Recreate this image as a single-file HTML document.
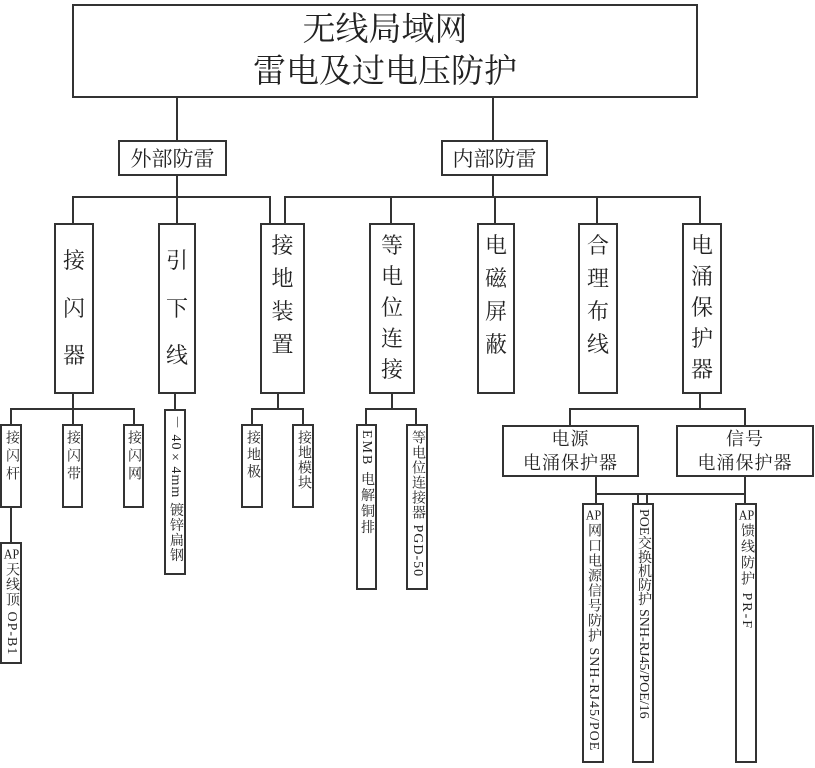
<!DOCTYPE html>
<html><head><meta charset="utf-8"><style>
body{margin:0;width:815px;height:768px;background:#fff;position:relative;overflow:hidden;font-family:"Liberation Serif","Noto Serif CJK SC","Noto Sans CJK SC",serif;color:#222}
.b{position:absolute;border:2px solid #333;box-sizing:border-box;background:#fff}
.h{position:absolute;height:2px;background:#333}
.v{position:absolute;width:2px;background:#333}
.col{display:flex;flex-direction:column;justify-content:flex-start;align-items:center;font-size:22px;line-height:22px}
.t{display:flex;flex-direction:column;justify-content:center;align-items:center;text-align:center}
.vt{writing-mode:vertical-rl;text-orientation:mixed;font-size:14px;letter-spacing:2px;padding-top:4px;line-height:18px;white-space:nowrap;overflow:hidden;text-align:start}
.cu{text-combine-upright:all}
</style></head><body>
<div class="v" style="left:176px;top:97px;height:44px"></div>
<div class="v" style="left:492px;top:97px;height:44px"></div>
<div class="v" style="left:176px;top:175px;height:23px"></div>
<div class="v" style="left:492px;top:175px;height:23px"></div>
<div class="h" style="left:72px;top:196px;width:199px"></div>
<div class="h" style="left:284px;top:196px;width:417px"></div>
<div class="v" style="left:72px;top:196px;height:28px"></div>
<div class="v" style="left:176px;top:196px;height:28px"></div>
<div class="v" style="left:269px;top:196px;height:28px"></div>
<div class="v" style="left:284px;top:196px;height:28px"></div>
<div class="v" style="left:390px;top:196px;height:28px"></div>
<div class="v" style="left:494px;top:196px;height:28px"></div>
<div class="v" style="left:596px;top:196px;height:28px"></div>
<div class="v" style="left:699px;top:196px;height:28px"></div>
<div class="v" style="left:72px;top:393px;height:16px"></div>
<div class="h" style="left:10px;top:408px;width:125px"></div>
<div class="v" style="left:10px;top:408px;height:17px"></div>
<div class="v" style="left:72px;top:408px;height:17px"></div>
<div class="v" style="left:133px;top:408px;height:17px"></div>
<div class="v" style="left:10px;top:507px;height:36px"></div>
<div class="v" style="left:174px;top:393px;height:17px"></div>
<div class="v" style="left:277px;top:393px;height:16px"></div>
<div class="h" style="left:251px;top:408px;width:53px"></div>
<div class="v" style="left:251px;top:408px;height:17px"></div>
<div class="v" style="left:302px;top:408px;height:17px"></div>
<div class="v" style="left:391px;top:393px;height:16px"></div>
<div class="h" style="left:365px;top:408px;width:52px"></div>
<div class="v" style="left:365px;top:408px;height:17px"></div>
<div class="v" style="left:415px;top:408px;height:17px"></div>
<div class="v" style="left:699px;top:393px;height:16px"></div>
<div class="h" style="left:569px;top:408px;width:177px"></div>
<div class="v" style="left:569px;top:408px;height:18px"></div>
<div class="v" style="left:744px;top:408px;height:18px"></div>
<div class="v" style="left:595px;top:475px;height:28px"></div>
<div class="v" style="left:744px;top:475px;height:28px"></div>
<div class="h" style="left:595px;top:493px;width:151px"></div>
<div class="v" style="left:637px;top:493px;height:10px"></div>
<div class="v" style="left:646px;top:493px;height:10px"></div>
<div class="b t" style="left:72px;top:4px;width:626px;height:94px;font-size:33px;line-height:42px">无线局域网<br>雷电及过电压防护</div>
<div class="b t" style="left:118px;top:140px;width:109px;height:36px;font-size:21px">外部防雷</div>
<div class="b t" style="left:441px;top:140px;width:107px;height:36px;font-size:21px">内部防雷</div>
<div class="b col" style="left:54px;top:223px;width:40px;height:171px;justify-content:space-evenly"><span>接</span><span>闪</span><span>器</span></div>
<div class="b col" style="left:158px;top:223px;width:38px;height:171px;justify-content:space-evenly"><span>引</span><span>下</span><span>线</span></div>
<div class="b col" style="left:260px;top:223px;width:45px;height:171px;padding-top:10px;gap:11px"><span>接</span><span>地</span><span>装</span><span>置</span></div>
<div class="b col" style="left:369px;top:223px;width:46px;height:171px;padding-top:10px;gap:9px"><span>等</span><span>电</span><span>位</span><span>连</span><span>接</span></div>
<div class="b col" style="left:477px;top:223px;width:38px;height:171px;padding-top:10px;gap:11px"><span>电</span><span>磁</span><span>屏</span><span>蔽</span></div>
<div class="b col" style="left:578px;top:223px;width:40px;height:171px;padding-top:10px;gap:11px"><span>合</span><span>理</span><span>布</span><span>线</span></div>
<div class="b col" style="left:682px;top:223px;width:40px;height:171px;padding-top:10px;gap:9px"><span>电</span><span>涌</span><span>保</span><span>护</span><span>器</span></div>
<div class="b vt" style="left:0px;top:424px;width:22px;height:84px;letter-spacing:4px">接闪杆</div>
<div class="b vt" style="left:62px;top:424px;width:21px;height:84px;letter-spacing:4px">接闪带</div>
<div class="b vt" style="left:123px;top:424px;width:21px;height:84px;letter-spacing:4px">接闪网</div>
<div class="b vt" style="left:0px;top:542px;width:22px;height:122px;letter-spacing:1px"><span class="cu">AP</span>天线顶 OP-B1</div>
<div class="b vt" style="left:164px;top:409px;width:22px;height:166px;letter-spacing:1px">－ 40×4mm 镀锌扁钢</div>
<div class="b vt" style="left:241px;top:424px;width:22px;height:84px;letter-spacing:3px">接地极</div>
<div class="b vt" style="left:292px;top:424px;width:22px;height:84px;letter-spacing:1px">接地模块</div>
<div class="b vt" style="left:356px;top:424px;width:21px;height:166px;letter-spacing:2px">EMB 电解铜排</div>
<div class="b vt" style="left:406px;top:424px;width:22px;height:166px;letter-spacing:1px">等电位连接器 PGD-50</div>
<div class="b t" style="left:502px;top:425px;width:137px;height:52px;font-size:18px;line-height:24px;letter-spacing:1px">电源<br>电涌保护器</div>
<div class="b t" style="left:676px;top:425px;width:138px;height:52px;font-size:18px;line-height:24px;letter-spacing:1px">信号<br>电涌保护器</div>
<div class="b vt" style="left:582px;top:503px;width:22px;height:260px;letter-spacing:1px"><span class="cu">AP</span>网口电源信号防护 SNH-RJ45/POE</div>
<div class="b vt" style="left:632px;top:503px;width:22px;height:260px;letter-spacing:0px">POE交换机防护 SNH-RJ45/POE/16</div>
<div class="b vt" style="left:735px;top:503px;width:22px;height:260px;letter-spacing:2px"><span class="cu">AP</span>馈线防护 PR-F</div>
</body></html>
